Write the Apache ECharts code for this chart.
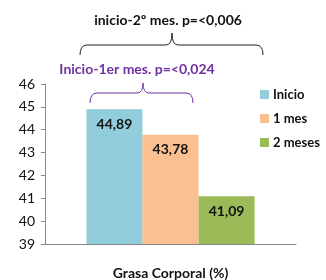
<!DOCTYPE html>
<html lang="es" style="height: 100%">
<head>
    <meta charset="utf-8">
</head>
<body style="height: 100%; margin: 0">
<div id="main" style="width: 326px; height: 280px"></div>
<script src="https://cdn.jsdelivr.net/npm/echarts@6/dist/echarts.min.js"></script>
<script type="text/javascript">
    // datos
    const categories = ['Grasa Corporal (%)'];
    const seriesNames = ['Inicio', '1 mes', '2 meses'];
    const seriesValues = [[44.89], [43.78], [41.09]];
    const seriesColors = ['#92CDDC', '#FAC090', '#9BBB59'];
    const yTicks = [39, 40, 41, 42, 43, 44, 45, 46];

    const font = 'Lato, "Liberation Sans", sans-serif';

    let chart = echarts.init(document.getElementById('main'));

    const series = seriesNames.map(function (name, i) {
        return {
            name: name,
            type: 'bar',
            data: seriesValues[i],
            itemStyle: {color: seriesColors[i]},
            barGap: '0%',
            barCategoryGap: '33%',
            label: {
                show: true,
                position: 'insideTop',
                distance: 8,
                color: '#111',
                fontFamily: font,
                fontWeight: 'bold',
                fontSize: 14,
                formatter: function (p) {
                    return p.value.toFixed(2).replace('.', ',');
                }
            }
        };
    });

    // llave horizontal (solo decoración de la anotación)
    function brace(x1, x2, xm, yLine, yTip, yEnd, color) {
        const st = {stroke: color, lineWidth: 1, fill: null};
        const r = 7;
        return [
            {type: 'bezierCurve', shape: {x1: x1, y1: yEnd, cpx1: x1, cpy1: yLine, x2: x1 + r, y2: yLine}, style: st},
            {type: 'line', shape: {x1: x1 + r, y1: yLine, x2: xm - 6, y2: yLine}, style: st},
            {type: 'bezierCurve', shape: {x1: xm - 6, y1: yLine, cpx1: xm, cpy1: yLine, x2: xm, y2: yTip}, style: st},
            {type: 'bezierCurve', shape: {x1: xm, y1: yTip, cpx1: xm, cpy1: yLine, x2: xm + 6, y2: yLine}, style: st},
            {type: 'line', shape: {x1: xm + 6, y1: yLine, x2: x2 - r, y2: yLine}, style: st},
            {type: 'bezierCurve', shape: {x1: x2 - r, y1: yLine, cpx1: x2, cpy1: yLine, x2: x2, y2: yEnd}, style: st}
        ];
    }

    const graphics = [
        {
            type: 'text',
            style: {
                text: 'inicio-2º mes. p=<0,006', x: 168, y: 20,
                align: 'center', verticalAlign: 'middle',
                fontFamily: font, fontWeight: 'bold', fontSize: 14, fill: '#111'
            }
        },
        {
            type: 'text',
            style: {
                text: 'Inicio-1er mes. p=<0,024', x: 137, y: 69,
                align: 'center', verticalAlign: 'middle',
                fontFamily: font, fontWeight: 'bold', fontSize: 14, fill: '#7030A0'
            }
        }
    ].concat(brace(80, 263, 172, 45, 33, 55, '#222'))
     .concat(brace(90, 193, 143, 93, 83, 103, '#7030A0'));

    chart.setOption({
        animation: false,
        grid: {left: 45, right: 30, top: 84, bottom: 31},
        legend: {
            data: seriesNames,
            orient: 'vertical',
            left: 255,
            top: 83,
            itemWidth: 9,
            itemHeight: 9,
            itemGap: 11,
            icon: 'rect',
            textStyle: {fontFamily: font, fontWeight: 'bold', fontSize: 13, color: '#111', padding: [0, 0, 0, -1]}
        },
        xAxis: {
            type: 'category',
            data: categories,
            axisLine: {lineStyle: {color: '#888'}},
            axisTick: {show: false},
            axisLabel: {margin: 22, fontFamily: font, fontWeight: 'bold', fontSize: 14, color: '#111'}
        },
        yAxis: {
            type: 'value',
            min: yTicks[0],
            max: yTicks[yTicks.length - 1],
            interval: 1,
            axisLine: {show: true, lineStyle: {color: '#888'}},
            axisTick: {show: true, length: 4, lineStyle: {color: '#888'}},
            splitLine: {show: false},
            axisLabel: {margin: 10, fontFamily: font, fontSize: 14, color: '#111'}
        },
        series: series,
        graphic: graphics
    });
</script>
</body>
</html>
